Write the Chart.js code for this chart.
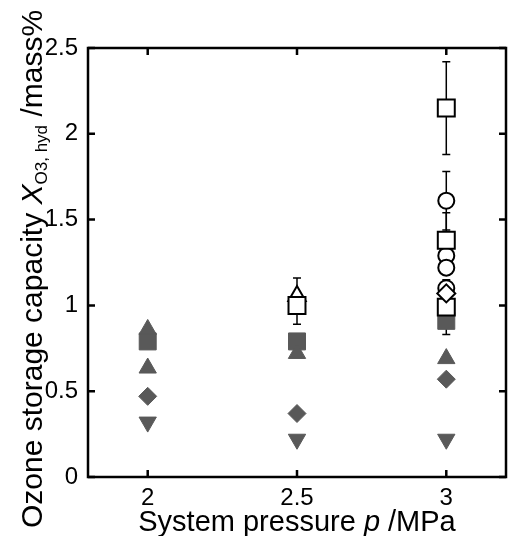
<!DOCTYPE html>
<html lang="en">
<head>
  <meta charset="UTF-8">
  <title>Ozone storage capacity vs system pressure</title>
  <script src="https://cdn.jsdelivr.net/npm/chart.js"></script>
  <style>
    html, body { margin: 0; padding: 0; background: #fff; }
    canvas { display: block; }
  </style>
</head>
<body>
  <canvas id="ozoneChart" width="520" height="536"></canvas>

  <script>
    // axis ticks
    const xTicks = [2, 2.5, 3];
    const yTicks = [0, 0.5, 1, 1.5, 2, 2.5];

    // filled grey markers
    const fTriUpX = [2, 2, 2.5, 3];
    const fTriUpY = [0.86, 0.635, 0.72, 0.69];
    const fSquareX = [2, 2.5, 3];
    const fSquareY = [0.79, 0.79, 0.91];
    const fDiamondX = [2, 2.5, 3];
    const fDiamondY = [0.47, 0.37, 0.57];
    const fTriDownX = [2, 2.5, 3];
    const fTriDownY = [0.32, 0.22, 0.22];

    // open markers
    const oSquareX = [2.5, 3, 3, 3];
    const oSquareY = [1.0, 2.15, 1.38, 0.99];
    const oSquareLow = [0.89, 1.88, 1.22, 0.83];
    const oSquareHigh = [1.16, 2.42, 1.54, 1.15];
    const oCircleX = [3, 3, 3, 3];
    const oCircleY = [1.61, 1.29, 1.22, 1.1];
    const oCircleLow = [1.44, null, null, null];
    const oCircleHigh = [1.78, null, null, null];
    const oTriUpX = [2.5];
    const oTriUpY = [1.055];
    const oDiamondX = [3];
    const oDiamondY = [1.07];

    const grey = '#595959';
    const fontFam = '"Liberation Sans", Arial, sans-serif';
    const pts = (xs, ys) => xs.map((x, i) => ({ x: x, y: ys[i] }));

    const errorSets = [
      { xs: oSquareX, lo: oSquareLow, hi: oSquareHigh },
      { xs: oCircleX, lo: oCircleLow, hi: oCircleHigh }
    ];

    const errorBars = {
      id: 'errorBars',
      beforeDatasetsDraw(chart) {
        const { ctx, scales: { x, y } } = chart;
        ctx.save();
        ctx.strokeStyle = '#000';
        ctx.lineWidth = 1.5;
        errorSets.forEach(s => {
          s.xs.forEach((xv, i) => {
            if (s.lo[i] == null) return;
            const px = x.getPixelForValue(xv);
            const y1 = y.getPixelForValue(s.lo[i]);
            const y2 = y.getPixelForValue(s.hi[i]);
            ctx.beginPath();
            ctx.moveTo(px, y1); ctx.lineTo(px, y2);
            ctx.moveTo(px - 4, y1); ctx.lineTo(px + 4, y1);
            ctx.moveTo(px - 4, y2); ctx.lineTo(px + 4, y2);
            ctx.stroke();
          });
        });
        ctx.restore();
      }
    };

    const frame = {
      id: 'frame',
      afterDraw(chart) {
        const { ctx, chartArea: a, scales: { x, y } } = chart;
        ctx.save();
        ctx.strokeStyle = '#000';
        ctx.lineWidth = 2.5;
        ctx.strokeRect(a.left, a.top, a.right - a.left, a.bottom - a.top);
        ctx.beginPath();
        xTicks.forEach(v => {
          const px = x.getPixelForValue(v);
          ctx.moveTo(px, a.bottom); ctx.lineTo(px, a.bottom - 7);
          ctx.moveTo(px, a.top); ctx.lineTo(px, a.top + 7);
        });
        yTicks.forEach(v => {
          const py = y.getPixelForValue(v);
          ctx.moveTo(a.left, py); ctx.lineTo(a.left + 7, py);
          ctx.moveTo(a.right, py); ctx.lineTo(a.right - 7, py);
        });
        ctx.stroke();

        // axis titles
        ctx.fillStyle = '#000';
        ctx.textBaseline = 'alphabetic';
        const big = '29px ' + fontFam;
        const bigIt = 'italic 29px ' + fontFam;
        const yBig = '30px ' + fontFam;
        const yBigIt = 'italic 30px ' + fontFam;
        const small = '17px ' + fontFam;

        // x title
        const xParts = [['System pressure ', big], ['p', bigIt], [' /MPa', big]];
        let w = 0;
        xParts.forEach(p => { ctx.font = p[1]; w += ctx.measureText(p[0]).width; });
        let cx = (a.left + a.right) / 2 - w / 2;
        xParts.forEach(p => {
          ctx.font = p[1];
          ctx.fillText(p[0], cx, 531);
          cx += ctx.measureText(p[0]).width;
        });

        // y title, rotated
        ctx.translate(42, 528);
        ctx.rotate(-Math.PI / 2);
        const yParts = [['Ozone storage capacity ', yBig, 0], ['X', yBigIt, 0],
                        ['O3, hyd', small, 5], [' /mass%', yBig, 0]];
        let cy = 0;
        yParts.forEach(p => {
          ctx.font = p[1];
          ctx.fillText(p[0], cy, p[2]);
          cy += ctx.measureText(p[0]).width;
        });
        ctx.restore();
      }
    };

    const ctx = document.getElementById('ozoneChart').getContext('2d');
    new Chart(ctx, {
      type: 'scatter',
      data: {
        datasets: [
          { label: 'open diamond', data: pts(oDiamondX, oDiamondY), pointStyle: 'rectRot',
            pointRadius: 9, backgroundColor: '#fff', borderColor: '#000', borderWidth: 2 },
          { label: 'open square', data: pts(oSquareX, oSquareY), pointStyle: 'rect',
            pointRadius: 12, backgroundColor: '#fff', borderColor: '#000', borderWidth: 2 },
          { label: 'open circle', data: pts(oCircleX, oCircleY), pointStyle: 'circle',
            pointRadius: 8, backgroundColor: '#fff', borderColor: '#000', borderWidth: 2 },
          { label: 'open triangle', data: pts(oTriUpX, oTriUpY), pointStyle: 'triangle',
            pointRadius: 10, backgroundColor: '#fff', borderColor: '#000', borderWidth: 2 },
          { label: 'filled triangle', data: pts(fTriUpX, fTriUpY), pointStyle: 'triangle',
            pointRadius: 10, backgroundColor: grey, borderColor: grey, borderWidth: 1 },
          { label: 'filled square', data: pts(fSquareX, fSquareY), pointStyle: 'rect',
            pointRadius: 12, backgroundColor: grey, borderColor: grey, borderWidth: 1 },
          { label: 'filled diamond', data: pts(fDiamondX, fDiamondY), pointStyle: 'rectRot',
            pointRadius: 9, backgroundColor: grey, borderColor: grey, borderWidth: 1 },
          { label: 'filled inverted triangle', data: pts(fTriDownX, fTriDownY), pointStyle: 'triangle',
            rotation: 180, pointRadius: 10, backgroundColor: grey, borderColor: grey, borderWidth: 1 }
        ]
      },
      options: {
        responsive: false,
        animation: false,
        layout: { padding: { top: 48, right: 3, left: 0, bottom: 0 } },
        plugins: {
          legend: { display: false },
          tooltip: { enabled: false }
        },
        scales: {
          x: {
            type: 'linear',
            min: 1.8,
            max: 3.2,
            afterBuildTicks: s => { s.ticks = xTicks.map(v => ({ value: v })); },
            afterFit: s => { s.height = 59; },
            grid: { display: false, drawTicks: false },
            border: { display: false },
            ticks: {
              color: '#000',
              padding: 7,
              font: { family: fontFam, size: 24 },
              callback: v => String(v)
            }
          },
          y: {
            min: 0,
            max: 2.5,
            afterBuildTicks: s => { s.ticks = yTicks.map(v => ({ value: v })); },
            afterFit: s => { s.width = 88; },
            grid: { display: false, drawTicks: false },
            border: { display: false },
            ticks: {
              color: '#000',
              padding: 10,
              font: { family: fontFam, size: 24 },
              callback: v => String(v)
            }
          }
        }
      },
      plugins: [errorBars, frame]
    });
  </script>
</body>
</html>
